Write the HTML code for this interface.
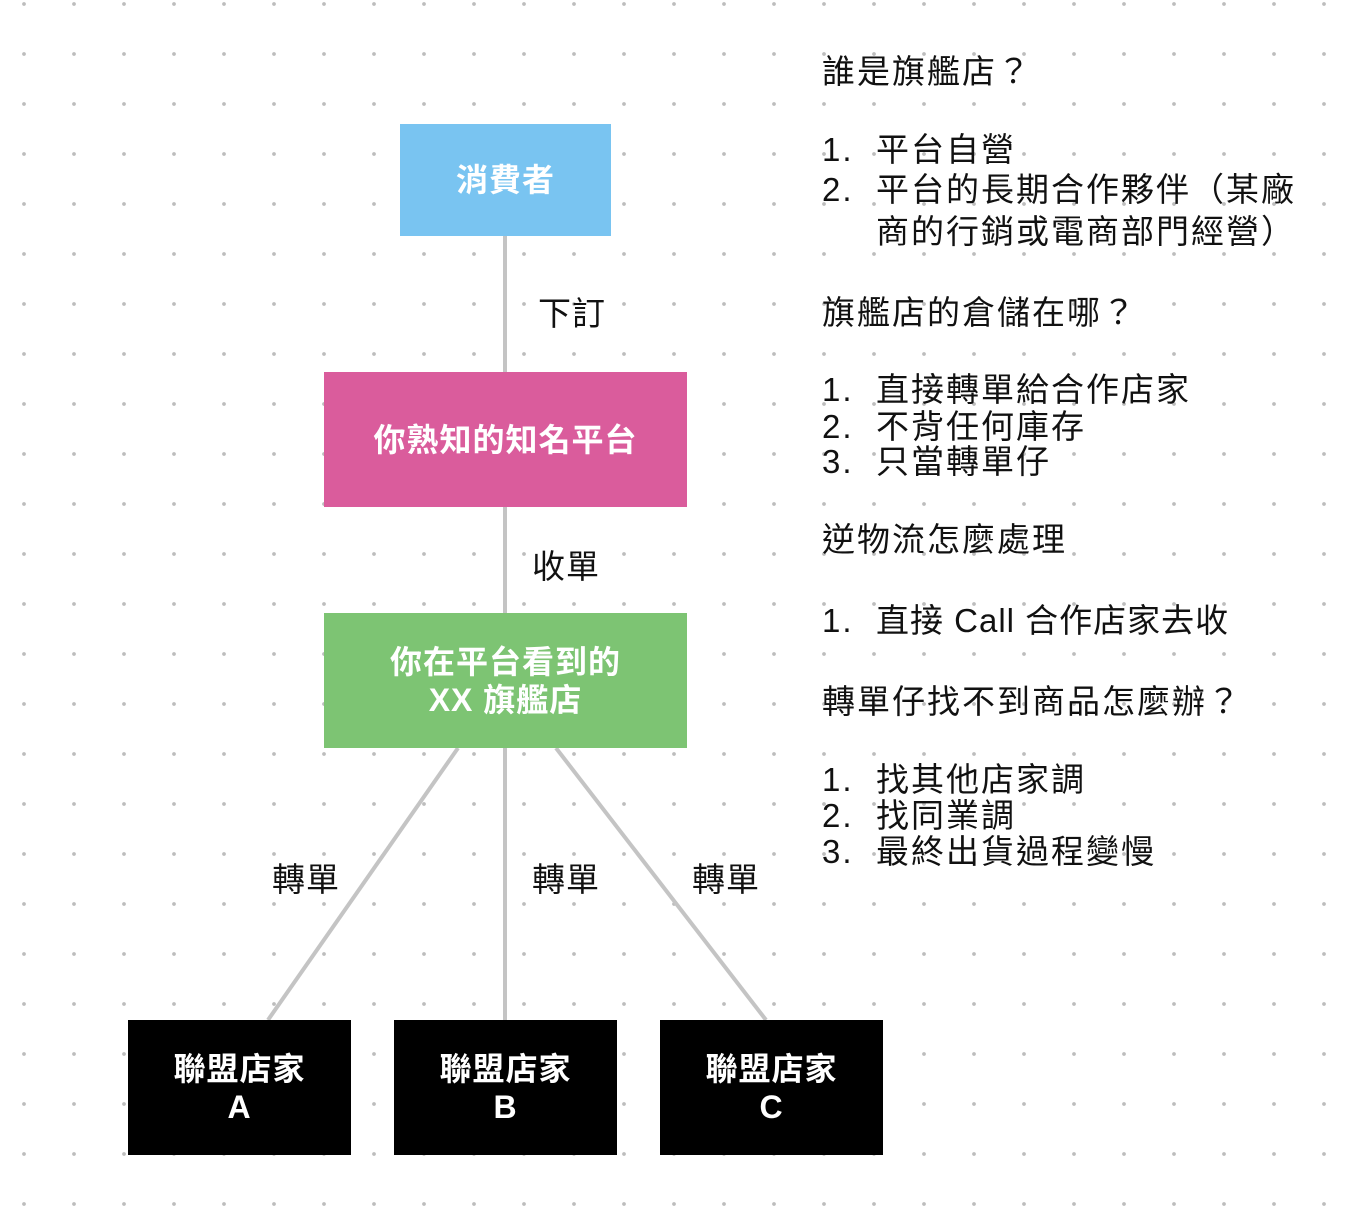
<!DOCTYPE html>
<html><head><meta charset="utf-8"><style>
html,body{margin:0;padding:0;}
body{width:1346px;height:1212px;position:relative;overflow:hidden;background:#fff;
background-image:radial-gradient(circle at 24px 4px,#bdbdbd 1.6px,transparent 2.2px);
background-size:50px 50px;background-position:0 0;
font-family:"Liberation Sans","Noto Sans CJK TC",sans-serif;}
.b{position:absolute;display:flex;align-items:center;justify-content:center;text-align:center;color:#fff;font-size:32px;font-weight:700;line-height:38px;letter-spacing:1px;}
.t{position:absolute;font-size:33px;color:#111;white-space:nowrap;line-height:40px;transform:translateY(-50%);letter-spacing:2px;}
.l{position:absolute;font-size:33px;color:#111;white-space:nowrap;line-height:40px;transform:translate(-50%,-50%);letter-spacing:1px;}
svg{position:absolute;left:0;top:0;}
</style></head><body>
<svg width="1346" height="1212">
<g stroke="#c4c4c4" stroke-width="4">
<line x1="505" y1="236" x2="505" y2="372"/>
<line x1="505" y1="507" x2="505" y2="613"/>
<line x1="505" y1="748" x2="505" y2="1020"/>
<line x1="458" y1="748" x2="268" y2="1020"/>
<line x1="556" y1="748" x2="766" y2="1020"/>
</g></svg>
<div class="b" style="left:400px;top:124px;width:211px;height:112px;background:#79c4f1;">消費者</div>
<div class="b" style="left:324px;top:372px;width:363px;height:135px;background:#da5c9c;">你熟知的知名平台</div>
<div class="b" style="left:324px;top:613px;width:363px;height:135px;background:#7dc473;">你在平台看到的<br>XX 旗艦店</div>
<div class="b" style="left:128px;top:1020px;width:223px;height:135px;background:#000;">聯盟店家<br>A</div>
<div class="b" style="left:394px;top:1020px;width:223px;height:135px;background:#000;">聯盟店家<br>B</div>
<div class="b" style="left:660px;top:1020px;width:223px;height:135px;background:#000;">聯盟店家<br>C</div>
<div class="l" style="left:572px;top:314px;">下訂</div>
<div class="l" style="left:566px;top:567px;">收單</div>
<div class="l" style="left:306px;top:880px;">轉單</div>
<div class="l" style="left:566px;top:880px;">轉單</div>
<div class="l" style="left:726px;top:880px;">轉單</div>

<div class="t" style="left:822px;top:72px;">誰是旗艦店？</div>
<div class="t" style="left:822px;top:150px;">1.</div><div class="t" style="left:876px;top:150px;">平台自營</div>
<div class="t" style="left:822px;top:190px;">2.</div><div class="t" style="left:876px;top:190px;">平台的長期合作夥伴（某廠</div>
<div class="t" style="left:876px;top:232px;">商的行銷或電商部門經營）</div>
<div class="t" style="left:822px;top:313px;">旗艦店的倉儲在哪？</div>
<div class="t" style="left:822px;top:390px;">1.</div><div class="t" style="left:876px;top:390px;">直接轉單給合作店家</div>
<div class="t" style="left:822px;top:427px;">2.</div><div class="t" style="left:876px;top:427px;">不背任何庫存</div>
<div class="t" style="left:822px;top:462px;">3.</div><div class="t" style="left:876px;top:462px;">只當轉單仔</div>
<div class="t" style="left:822px;top:540px;">逆物流怎麼處理</div>
<div class="t" style="left:822px;top:621px;">1.</div><div class="t" style="left:876px;top:621px;letter-spacing:1px;">直接 Call 合作店家去收</div>
<div class="t" style="left:822px;top:702px;">轉單仔找不到商品怎麼辦？</div>
<div class="t" style="left:822px;top:780px;">1.</div><div class="t" style="left:876px;top:780px;">找其他店家調</div>
<div class="t" style="left:822px;top:816px;">2.</div><div class="t" style="left:876px;top:816px;">找同業調</div>
<div class="t" style="left:822px;top:852px;">3.</div><div class="t" style="left:876px;top:852px;">最終出貨過程變慢</div>
</body></html>
